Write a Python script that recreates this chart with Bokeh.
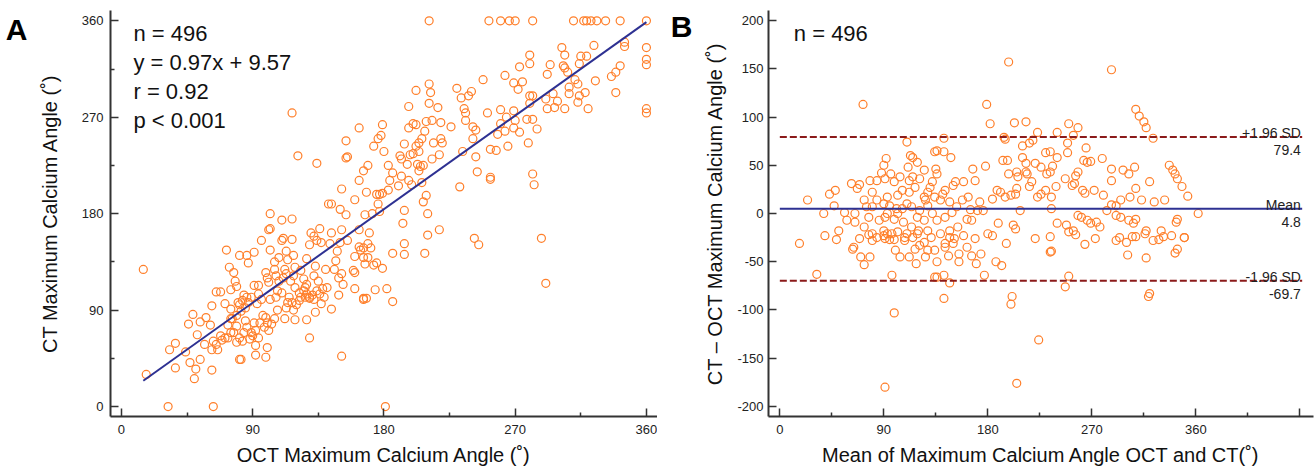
from bokeh.plotting import figure
from bokeh.layouts import row
from bokeh.models import Range1d, FixedTicker, LinearAxis, PrintfTickFormatter
from bokeh.models import Label
from bokeh.embed import file_html
from bokeh.resources import INLINE

# ---------------- Panel A data (OCT vs CT maximum calcium angle) ----------------
oct_angle = [
    15, 17, 32, 63, 181, 37, 33, 37, 44, 47,
    50, 51, 54, 46, 49, 52, 54, 57, 58, 61,
    62, 62, 62, 63, 65, 66, 65, 68, 69, 71,
    73, 72, 74, 77, 78, 75, 79, 81, 86, 87,
    91, 96, 102, 101, 102, 110, 117, 111, 110, 117,
    121, 134, 142, 102, 105, 108, 113, 114, 118, 112,
    119, 123, 127, 129, 130, 132, 136, 134, 137, 99,
    100, 101, 105, 106, 108, 111, 113, 116, 118, 119,
    122, 125, 126, 127, 129, 132, 133, 135, 136, 140,
    141, 139, 137, 133, 129, 144, 151, 186, 166, 168,
    80, 81, 83, 84, 86, 85, 87, 89, 91, 94,
    94, 96, 93, 82, 79, 76, 75, 77, 79, 79,
    81, 83, 84, 85, 86, 88, 89, 90, 91, 92,
    94, 95, 97, 98, 99, 100, 103, 101, 92, 92,
    99, 100, 81, 82, 71, 68, 73, 75, 75, 102,
    106, 107, 112, 113, 114, 115, 117, 118, 119, 120,
    122, 123, 125, 126, 129, 131, 132, 134, 138, 127,
    105, 110, 107, 127, 117,
    211, 252, 260, 266, 270, 282, 310, 317, 319, 322,
    326, 332, 342, 360, 360, 360, 360, 360, 360, 345,
    345, 342, 339, 336, 339, 324, 319, 315, 314, 304,
    302, 303, 304, 306, 311, 313, 307, 307, 314, 313,
    318, 325, 320, 304, 299, 297, 296, 292, 291, 292,
    294, 280, 280, 273, 263, 269, 275, 272, 280, 282,
    280, 278, 282, 285, 279, 282, 283, 288, 291, 269,
    264, 270, 260, 260, 263, 269, 273, 258, 251, 248,
    265, 257, 253, 253, 253, 243, 244, 232, 234, 241,
    241, 243, 236, 236, 235, 233, 238, 240, 230, 226,
    242, 245, 211, 212, 202, 211, 217, 197, 209, 213,
    219, 200, 202, 197, 208, 206, 204, 202, 219, 220,
    214, 194, 198, 200, 204, 191, 192, 196, 203, 207,
    213, 218, 204, 205, 192, 197, 199, 206, 190, 207,
    209, 210, 194, 193, 218, 210, 194, 194, 186, 208,
    179, 178, 176, 173, 180, 183, 186, 184, 183, 179,
    177, 175, 176, 172, 177, 169, 166, 163, 168, 167,
    170, 169, 171, 166, 164, 163, 160, 166, 169, 175,
    179, 173, 167, 159, 160, 154, 154, 155, 163, 151,
    160, 150, 154, 163, 151, 144, 155, 150, 148, 147,
    146, 151, 149, 152, 160, 174, 182, 149, 166, 144,
    143,
]
ct_angle = [
    128, 30, 0, 0, 0, 59, 53, 36, 51, 41,
    26, 35, 44, 77, 86, 67, 79, 58, 83, 76,
    53, 34, 94, 61, 58, 53, 107, 107, 62, 96,
    64, 146, 130, 125, 117, 109, 112, 141, 141, 134,
    144, 155, 180, 165, 166, 174, 175, 157, 155, 156,
    234, 227, 189, 146, 135, 139, 145, 137, 141, 128,
    130, 127, 138, 151, 162, 159, 166, 155, 153, 125,
    120, 116, 128, 122, 117, 120, 124, 117, 122, 111,
    106, 119, 111, 105, 102, 122, 131, 117, 105, 128,
    111, 102, 96, 88, 64, 91, 47, 98, 100, 101,
    97, 95, 99, 104, 102, 92, 97, 102, 113, 113,
    105, 100, 96, 89, 85, 82, 69, 69, 75, 60,
    64, 61, 69, 80, 74, 63, 69, 66, 78, 71,
    64, 78, 85, 74, 83, 78, 77, 71, 57, 48,
    46, 55, 44, 44, 64, 66, 76, 82, 91, 100,
    102, 90, 82, 92, 97, 102, 97, 90, 81, 95,
    99, 102, 108, 102, 101, 104, 100, 108, 110, 81,
    82, 106, 108, 114, 274,
    360, 360, 360, 360, 360, 360, 360, 360, 360, 360,
    360, 360, 360, 360, 335, 324, 319, 278, 274, 340,
    336, 318, 312, 308, 293, 337, 327, 327, 320, 328,
    335, 318, 316, 312, 305, 301, 298, 292, 290, 284,
    293, 304, 278, 278, 285, 279, 292, 278, 287, 310,
    319, 328, 320, 317, 309, 302, 303, 296, 290, 290,
    283, 268, 268, 259, 246, 217, 207, 157, 115, 276,
    270, 267, 277, 264, 257, 260, 256, 254, 274, 305,
    243, 239, 240, 214, 212, 233, 219, 205, 238, 250,
    261, 258, 274, 267, 278, 288, 290, 294, 297, 261,
    157, 151, 301, 293, 295, 283, 279, 280, 266, 267,
    265, 264, 263, 260, 257, 250, 246, 243, 250, 246,
    246, 245, 235, 236, 238, 234, 231, 226, 226, 225,
    231, 235, 220, 224, 215, 211, 207, 209, 206, 191,
    197, 180, 183, 171, 165, 160, 152, 142, 143, 143,
    263, 253, 250, 243, 238, 225, 218, 211, 202, 199,
    198, 198, 189, 180, 182, 225, 220, 211, 200, 179,
    162, 152, 148, 148, 146, 149, 140, 139, 139, 134,
    129, 132, 133, 127, 125, 248, 232, 233, 260, 203,
    193, 184, 179, 165, 165, 162, 155, 153, 145, 136,
    128, 124, 120, 114, 110, 109, 110, 104, 101, 189,
    152,
]
fit_slope = 0.97
fit_intercept = 9.57
fit_x = [15, 360]
stats_a = ["n = 496", "y = 0.97x + 9.57", "r = 0.92", "p < 0.001"]
ticks_a = [0, 90, 180, 270, 360]
minor_a = [45, 135, 225, 315]

# ---------------- Panel B data (Bland-Altman) ----------------
mean_angle = [
    198, 287, 72, 179, 182, 203, 213, 308, 311, 315,
    317, 323, 250, 258, 223, 240, 254, 194, 195, 110,
    142, 219, 216, 210, 249, 265, 249, 230, 234, 240,
    279, 263, 266, 269, 113, 115, 119, 134, 142, 136,
    148, 92, 90, 111, 125, 135, 136, 167, 178, 193,
    197, 210, 221, 213, 236, 226, 198, 205, 213, 214,
    234, 231, 258, 256, 287, 287, 297, 302, 307, 337,
    340, 342, 344, 348, 353, 320, 308, 303, 313, 324,
    333, 362, 295, 291, 280, 272, 262, 264, 253, 255,
    247, 239, 230, 235, 223, 226, 216, 218, 206, 205,
    204, 200, 195, 188, 191, 184, 173, 169, 159, 152,
    150, 143, 141, 132, 130, 125, 126, 117, 112, 106,
    102, 99, 96, 91, 88, 84, 78, 69, 67, 62,
    48, 43, 24, 38, 47, 56, 65, 73, 80, 84,
    90, 93, 80, 95, 101, 110, 114, 119, 125, 132,
    136, 143, 153, 165, 162, 166, 176, 189, 202, 204,
    180, 208, 235, 240, 248, 254, 258, 261, 266, 269,
    274, 277, 283, 287, 291, 295, 302, 306, 308, 317,
    330, 343, 344, 350, 339, 75, 77, 86, 91, 102,
    107, 114, 120, 128, 147, 154, 90, 97, 108, 80,
    73, 65, 58, 51, 112, 115, 104, 121, 128, 134,
    139, 147, 158, 163, 171, 99, 93, 121, 128, 149,
    106, 17, 32, 39, 49, 63, 64, 70, 73, 78,
    80, 84, 90, 91, 95, 99, 97, 99, 100, 104,
    108, 112, 118, 121, 125, 126, 131, 134, 136, 134,
    136, 142, 143, 143, 142, 147, 146, 150, 151, 155,
    155, 159, 166, 170, 174, 177, 184, 187, 192, 196,
    200, 201, 205, 224, 221, 234, 234, 235, 247, 250,
    250, 256, 264, 273, 291, 294, 300, 301, 305, 308,
    316, 317, 319, 320, 323, 328, 332, 342, 344, 350,
    91, 110, 115, 119, 139, 147, 169, 162, 102, 93,
    77, 69, 117, 128,
]
diff_angle = [
    157, 149, 113, 113, 93, 94, 95, 108, 101, 95,
    89, 78, 93, 89, 84, 84, 81, 79, 77, 74,
    78, 76, 73, 70, 73, 68, 63, 63, 64, 58,
    57, 55, 53, 54, 60, 58, 53, 64, 64, 65,
    58, 57, 50, 48, 45, 46, 41, 46, 49, 55,
    55, 58, 52, 52, 49, 48, 41, 43, 43, 41,
    43, 41, 43, 39, 46, 34, 45, 41, 48, 50,
    45, 41, 36, 28, 18, 33, 26, 17, 14, 12,
    14, 0, 14, 8, 19, 24, 24, 21, 29, 31,
    36, 28, 24, 17, 17, 20, 28, 33, 38, 26,
    20, 19, 17, 24, 22, 15, 12, 34, 33, 33,
    29, 24, 20, 33, 27, 17, 14, 27, 22, 24,
    19, 33, 41, 36, 42, 34, 34, 30, 26, 31,
    24, 20, 14, 0, 8, 1, 0, 14, 22, 14,
    10, 17, 7, 8, 5, 10, 7, -4, -7, 0,
    -7, -4, 7, 4, -6, -7, 3, -10, -12, -16,
    -21, 3, 5, -10, -12, -18, -2, -4, -7, -10,
    -9, -14, 3, 9, -2, -4, -7, -10, -6, -18,
    -18, -9, -6, -25, -23, 7, -4, -7, -4, 0,
    -9, -14, -18, -18, -18, -14, -18, -21, -25, -21,
    -14, -9, -7, -18, 34, 38, 38, 36, 22, 17,
    14, 12, 14, 17, 3, -6, 0, 3, 8, 1,
    5, -31, -63, -23, -27, -37, -35, -45, -53, -45,
    -28, -25, -23, -26, -27, -27, -64, -103, -38, -45,
    -28, -45, -52, -33, -30, -45, -25, -66, -66, -38,
    -50, -64, -31, -35, -88, -72, -44, -31, -26, -42,
    -50, -23, -44, -52, -42, -64, -23, -50, -54, -31,
    -94, -86, -176, -131, -26, -24, -40, -39, -76, -65,
    -19, -22, -32, -26, -28, -25, -30, -43, -24, -24,
    -21, -46, -86, -83, -28, -27, -24, -41, -37, -25,
    -180, -21, -25, -21, -21, -25, -26, -35, -19, -21,
    -22, -26, -37, -38,
]
mean_diff = 4.8
upper_loa = 79.4
lower_loa = -69.7
ref_line_x = [0, 452]
ref_lines = [
    (upper_loa, "+1.96 SD", "79.4"),
    (mean_diff, "Mean", "4.8"),
    (lower_loa, "-1.96 SD", "-69.7"),
]
ticks_bx = [0, 90, 180, 270, 360, 450]
minor_bx = [45, 135, 225, 315, 405]
ticks_by = [-200, -150, -100, -50, 0, 50, 100, 150, 200]

assert len(oct_angle) == len(ct_angle)
assert len(mean_angle) == len(diff_angle)

FONT = "Liberation Sans"
ORANGE = "#FF7F2A"
BLUE = "#2E3192"
DARKRED = "#8B1A1A"
AXIS = "#333333"


def style_axis(ax, label_standoff, title_standoff):
    ax.axis_line_width = 2
    ax.axis_line_color = AXIS
    ax.major_tick_in = 8
    ax.major_tick_out = 0
    ax.minor_tick_in = 4
    ax.minor_tick_out = 0
    ax.major_tick_line_width = 1.5
    ax.minor_tick_line_width = 1.5
    ax.major_tick_line_color = AXIS
    ax.minor_tick_line_color = AXIS
    ax.major_label_text_font = FONT
    ax.major_label_text_font_size = "13px"
    ax.major_label_text_color = "#222222"
    ax.major_label_standoff = label_standoff
    ax.axis_label_text_font = FONT
    ax.axis_label_text_font_size = "20px"
    ax.axis_label_text_font_style = "normal"
    ax.axis_label_text_color = "#111111"
    ax.axis_label_standoff = title_standoff


def panel_letter(p, letter, tick_pos, standoff):
    # an extra, invisible left axis whose single tick label is the panel letter
    ax = LinearAxis(ticker=FixedTicker(ticks=[tick_pos], minor_ticks=[]),
                    major_label_overrides={tick_pos: letter})
    ax.axis_line_color = None
    ax.major_tick_line_color = None
    ax.minor_tick_line_color = None
    ax.major_label_text_font = FONT
    ax.major_label_text_font_size = "30px"
    ax.major_label_text_font_style = "bold"
    ax.major_label_text_color = "#000000"
    ax.major_label_standoff = standoff
    p.add_layout(ax, "left")


def base_style(p):
    p.grid.visible = False
    p.outline_line_color = None
    p.background_fill_color = "white"
    p.border_fill_color = "white"


# ---------------- Panel A ----------------
p1 = figure(width=657, height=469, x_range=Range1d(-7.5, 367.6), y_range=Range1d(-9.3, 369.6),
            output_backend="svg", toolbar_location=None,
            min_border_left=110, min_border_right=0, min_border_top=10, min_border_bottom=53)
base_style(p1)
p1.xaxis.axis_label = "OCT Maximum Calcium Angle (˚)"
p1.yaxis.axis_label = "CT Maximum Calcium Angle (˚)"
p1.xaxis.ticker = FixedTicker(ticks=ticks_a, minor_ticks=minor_a)
p1.yaxis.ticker = FixedTicker(ticks=ticks_a, minor_ticks=minor_a)
style_axis(p1.xaxis[0], 8, 7)
style_axis(p1.yaxis[0], 7, 18)
panel_letter(p1, "A", 352, 2)

p1.scatter(oct_angle, ct_angle, marker="circle", size=8, fill_color=None,
           line_color=ORANGE, line_width=1.2)
p1.line(fit_x, [fit_slope * v + fit_intercept for v in fit_x], line_color=BLUE, line_width=2)

for i, s in enumerate(stats_a):
    p1.add_layout(Label(x=0, y=360, x_offset=12, y_offset=-13 - 29 * i, text=s,
                        text_font=FONT, text_font_size="22px", text_color="#111111",
                        text_align="left", text_baseline="alphabetic"))

# ---------------- Panel B ----------------
p2 = figure(width=657, height=469, x_range=Range1d(-9.8, 461.8), y_range=Range1d(-210.4, 210.4),
            output_backend="svg", toolbar_location=None,
            min_border_left=111, min_border_right=1, min_border_top=10, min_border_bottom=53)
base_style(p2)
p2.xaxis.axis_label = "Mean of Maximum Calcium Angle OCT and CT(˚)"
p2.yaxis.axis_label = "CT – OCT Maximum Calcium Angle (˚)"
p2.xaxis.ticker = FixedTicker(ticks=ticks_bx, minor_ticks=minor_bx)
p2.yaxis.ticker = FixedTicker(ticks=ticks_by, minor_ticks=[])
p2.yaxis.formatter = PrintfTickFormatter(format="%d")
p2.xaxis.major_label_overrides = {450: ""}
style_axis(p2.xaxis[0], 8, 7)
style_axis(p2.yaxis[0], 5, 8)
panel_letter(p2, "B", 194, 3)

p2.scatter(mean_angle, diff_angle, marker="circle", size=8, fill_color=None,
           line_color=ORANGE, line_width=1.2)
for val, top_txt, bot_txt in ref_lines:
    if top_txt == "Mean":
        p2.line(ref_line_x, [val, val], line_color=BLUE, line_width=2)
    else:
        p2.line(ref_line_x, [val, val], line_color=DARKRED, line_width=2, line_dash="7 3")
    p2.add_layout(Label(x=450, y=val, x_offset=1, y_offset=4, text=top_txt,
                        text_font=FONT, text_font_size="14px", text_color="#222222",
                        text_align="right", text_baseline="alphabetic"))
    p2.add_layout(Label(x=450, y=val, x_offset=1, y_offset=-8, text=bot_txt,
                        text_font=FONT, text_font_size="14px", text_color="#222222",
                        text_align="right", text_baseline="top"))

p2.add_layout(Label(x=0, y=200, x_offset=14, y_offset=-13, text="n = 496",
                    text_font=FONT, text_font_size="22px", text_color="#111111",
                    text_align="left", text_baseline="alphabetic"))

layout = row(p1, p2)
open("out.html", "w").write(file_html(layout, INLINE, title="Calcium angle agreement"))
